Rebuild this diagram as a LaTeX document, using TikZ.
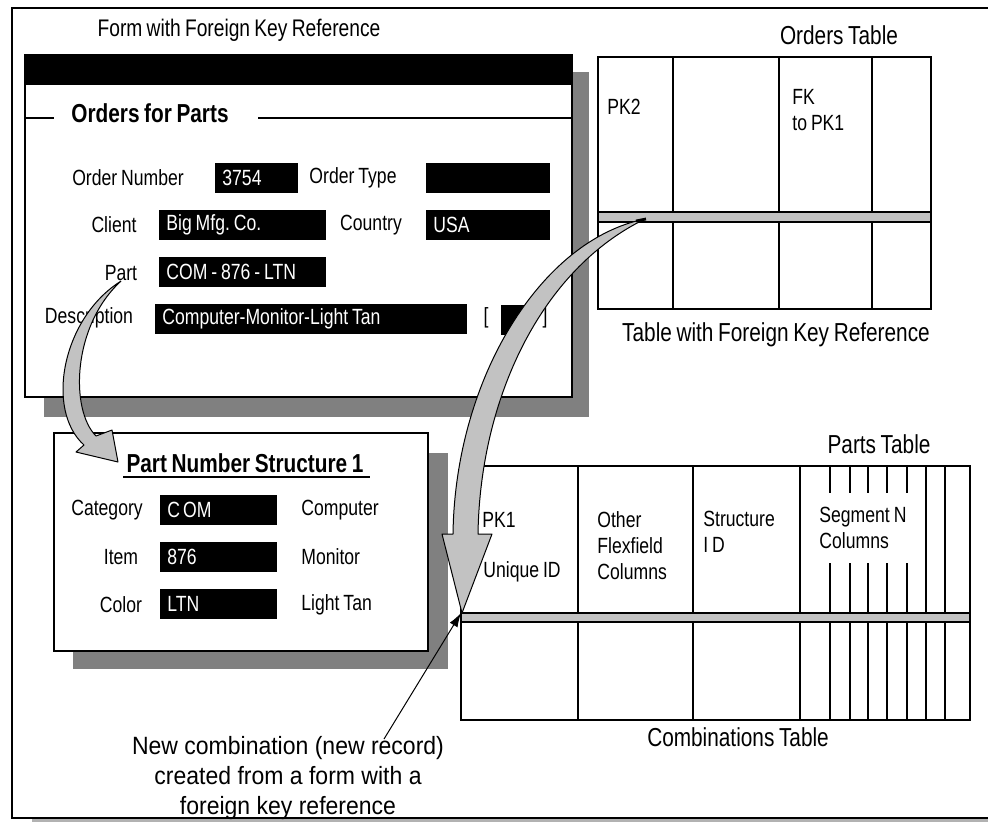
\documentclass[tikz,border=0pt]{standalone}
\usepackage{fontspec}
\setmainfont{Liberation Sans}[FakeStretch=0.8,WordSpace=0.8]
\newfontfamily\notefont{Liberation Sans}[FakeStretch=0.92]
\usepackage{tikz}
\usetikzlibrary{arrows.meta}
\definecolor{shade}{gray}{0.5}
\definecolor{band}{gray}{0.76}
\frenchspacing

\begin{document}
\begin{tikzpicture}[x=0.5pt,y=-0.5pt,>=Latex,
    lbl/.style={font=\fontsize{11}{13}\selectfont,inner sep=0pt},
    heading/.style={font=\fontsize{#1}{15}\selectfont,inner sep=0pt},
    heading/.default=13,
    boldhead/.style={font=\fontsize{13}{15}\selectfont\bfseries,inner sep=0pt},
    field/.style={fill=black,text=white,anchor=west,minimum height=15pt,
                  inner xsep=3.5pt,inner ysep=0pt,text width=#1,align=flush left,
                  font=\fontsize{11}{13}\selectfont},
    win/.style={draw,line width=0.9pt,fill=white},
    shadow/.style={fill=shade},
    grid/.style={draw,line width=0.8pt},
    bigarrow/.style={draw,line width=0.5pt,fill=band,line join=round},
    note/.style={font=\notefont\fontsize{12.5}{15}\selectfont,align=center,inner sep=0pt}]
    \useasboundingbox (0,0) rectangle (988,821);
    \fill[shade!60] (32,819) rectangle (988,822);
    \draw[line width=1pt] (1000,8) -- (12,8) -- (12,818) -- (1000,818);

    \node[heading=12] (formtitle) at (239,30) {Form with Foreign Key Reference};
    \fill[shadow] (44,72) rectangle (589,417);
    \draw[win] (25,55) rectangle (572,397);
    \fill (25,55) rectangle (572,85);
    \node[boldhead] (ofp) at (150,113) {Orders for Parts};
    \draw[line width=0.8pt] (25,118) -- (54,118) (258,118) -- (572,118);

    \node[lbl] (ordnum) at (128,178) {Order Number};
    \node[field=34.5pt] (ordnumf) at (215,178) {3754};
    \node[lbl] (ordtype) at (353,178) {Order Type};
    \node[field=55pt] (ordtypef) at (426,178) {};
    \node[lbl] (client) at (114,225) {Client};
    \node[field=76.5pt] (clientf) at (159,225) {Big Mfg. Co.};
    \node[lbl] (country) at (371,225) {Country};
    \node[field=55pt] (countryf) at (426,225) {USA};
    \node[lbl] (part) at (121,273) {Part};
    \node[field=76.5pt] (partf) at (159,272) {COM - 876 - LTN};
    \node[lbl] (descr) at (89,318) {Description};
    \node[field=149pt] (descrf) at (155,319) {Computer-Monitor-Light Tan};
    \node[lbl] (lbr) at (486,318) {[};
    \node[field=6pt] (chk) at (501,320) {};
    \node[lbl] (rbr) at (545,318) {]};

    \node[heading] (ordtitle) at (839,35) {Orders Table};
    \draw[grid] (598,57) rectangle (931,309);
    \foreach \x in {673,779,872} \draw[grid] (\x,57) -- (\x,309);
    \draw[grid,fill=band] (598,212) rectangle (931,222);
    \node[lbl,anchor=west] (pk2) at (607,107) {PK2};
    \node[lbl,anchor=west,align=left] (fk) at (792,110) {FK\\to PK1};
    \node[heading] (fktitle) at (776,335) {Table with Foreign Key Reference};

    \fill[shadow] (73,453) rectangle (448,669);
    \draw[win] (54,433) rectangle (428,651);
    \node[boldhead] (pns) at (245,463) {Part Number Structure 1};
    \draw[line width=0.8pt] (123,477) -- (370,477);
    \node[lbl] (cat) at (107,510) {Category};
    \node[field=51.5pt] (catf) at (160,510) {C\kern1.5pt OM};
    \node[lbl,anchor=west] (catv) at (301,510) {Computer};
    \node[lbl] (item) at (121,557) {Item};
    \node[field=51.5pt] (itemf) at (160,557) {876};
    \node[lbl,anchor=west] (itemv) at (301,557) {Monitor};
    \node[lbl] (color) at (121,605) {Color};
    \node[field=51.5pt] (colorf) at (160,604) {LTN};
    \node[lbl,anchor=west] (colorv) at (301,605) {Light Tan};

    \node[heading] (partstitle) at (879,444) {Parts Table};
    \draw[grid] (461,466) rectangle (970,720);
    \foreach \x in {578,693,800,926,945} \draw[grid] (\x,466) -- (\x,720);
    \foreach \x in {830,850,868,887,907} \draw[grid] (\x,466) -- (\x,493) (\x,563) -- (\x,720);
    \draw[grid,fill=band] (461,613) rectangle (970,622);
    \node[lbl,anchor=west] (pk1) at (482,520) {PK1};
    \node[lbl,anchor=west] (uid) at (483,572) {Unique ID};
    \node[lbl,anchor=west,align=left] (other) at (597,546) {Other\\Flexfield\\Columns};
    \node[lbl,anchor=west,align=left] (struct) at (703,532) {Structure\\I D};
    \node[lbl,anchor=west,align=left] (seg) at (819,528) {Segment N\\Columns};
    \node[heading] (combtitle) at (738,737) {Combinations Table};

    \coordinate (ordersrow) at (645,219);
    \coordinate (partsrow) at (461,613);
    \draw[bigarrow] (part.south) .. controls (62,318) and (45,410) .. (84,445)
        -- (76,452) -- (118,462) -- (112,430) -- (96,436)
        .. controls (70,410) and (72,326) .. (part.south);
    \draw[bigarrow] (ordersrow) .. controls (540,240) and (455,380) .. (453,534)
        -- (442,534) -- (462,613) -- (492,534) -- (478,534)
        .. controls (480,400) and (540,270) .. (ordersrow);
    \draw[line width=1.4pt] (636,221) -- (646,219);

    \node[note] (newrec) at (288,778) {New combination (new record)\\created from a form with a\\foreign key reference};
    \coordinate (notetip) at (384,739);
    \draw[-{Latex[length=7pt,width=4.5pt]},line width=0.5pt] (notetip) -- (partsrow);
\end{tikzpicture}
\end{document}
